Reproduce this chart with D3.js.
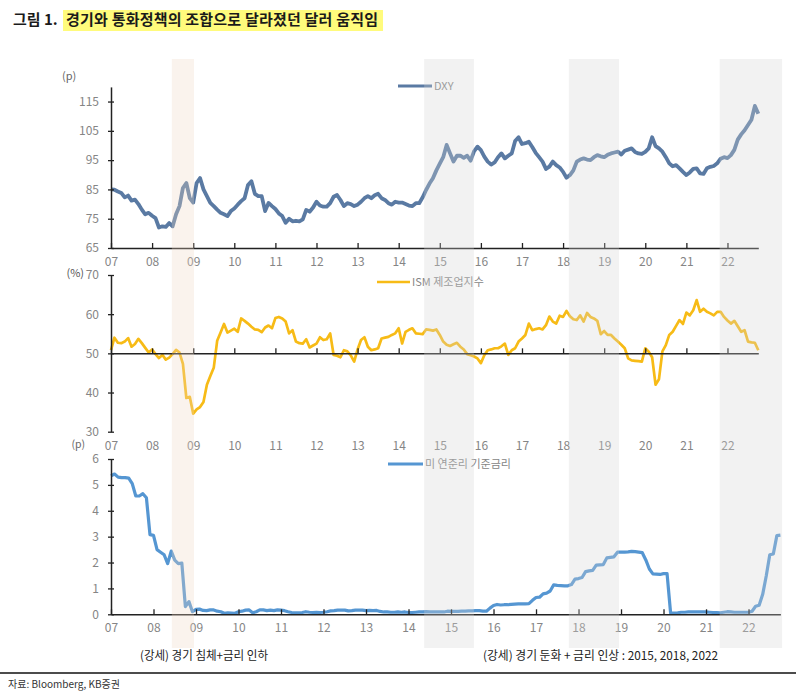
<!DOCTYPE html>
<html><head><meta charset="utf-8">
<script src="https://cdn.jsdelivr.net/npm/d3@7"></script>
<style>
body{margin:0;background:#fff}
svg{display:block}
text{font-family:"Noto Sans CJK KR","Noto Sans",sans-serif}
</style></head>
<body><svg id="c" width="796" height="696"></svg>
<script>
// ---- data (monthly, Jan 2007 .. Oct 2022) ----
const yearLabels = ["07","08","09","10","11","12","13","14","15","16","17","18","19","20","21","22"];
const dxyTicks = [65,75,85,95,105,115];
const ismTicks = [30,40,50,60,70];
const fedTicks = [0,1,2,3,4,5,6];

const dxy = [
85.0,84.9,84.3,83.8,82.3,82.9,81.2,81.5,80.0,78.1,76.5,77.0,
76.0,75.2,72.0,72.4,72.2,73.5,72.4,76.5,79.3,85.5,87.2,82.0,
80.5,87.2,88.9,85.0,82.7,80.4,79.3,78.1,77.0,76.5,75.9,77.6,
78.5,79.8,81.0,82.0,86.5,87.8,83.5,82.7,82.7,77.6,80.4,79.3,
78.3,76.8,75.9,73.6,75.0,74.1,74.3,74.1,74.8,78.0,77.4,78.8,
80.8,79.5,79.1,79.1,80.3,82.5,83.1,81.4,79.3,80.3,80.0,79.3,
79.8,80.8,82.0,82.7,82.0,83.0,83.5,82.0,81.4,80.3,79.8,80.8,
80.5,80.5,80.0,79.5,79.3,80.3,80.3,82.3,84.8,87.0,88.8,91.5,
93.8,96.0,100.2,97.3,94.5,96.5,96.5,95.8,96.5,94.8,98.0,99.6,
98.4,96.2,94.5,93.5,94.2,96.0,97.3,95.6,96.5,97.3,101.5,102.8,
100.5,100.8,101.3,99.5,97.5,96.0,94.5,92.0,92.8,94.5,93.3,92.5,
91.0,89.0,89.9,91.5,94.5,95.2,95.6,95.2,95.0,96.0,96.7,96.3,
96.0,96.8,97.3,97.6,97.9,96.9,98.2,98.6,99.0,97.8,97.3,97.1,
97.8,99.0,102.8,99.8,99.0,97.9,96.0,93.9,92.9,93.3,92.2,91.0,
89.9,90.8,92.0,92.2,90.5,90.3,92.2,92.7,93.0,93.9,95.5,96.0,
95.7,96.7,98.5,102.0,103.8,105.2,107.0,108.8,113.5,110.8];

const ism = [
50.8,54.0,52.7,52.6,53.0,53.9,51.7,52.4,53.7,52.6,51.4,50.2,
51.0,49.8,48.8,49.6,48.4,48.9,49.8,50.9,50.2,47.3,38.6,38.9,
34.6,35.7,36.3,37.6,42.0,44.2,46.3,53.2,55.3,57.5,55.3,55.8,
56.3,55.5,58.9,58.3,57.6,56.8,56.1,56.0,55.4,56.6,57.1,56.4,
59.0,59.3,58.9,58.1,55.1,55.9,53.0,52.6,52.5,53.6,51.5,52.0,
52.5,54.1,53.4,53.6,55.1,49.6,49.4,49.0,50.8,50.5,49.5,47.9,
51.0,53.4,54.1,51.7,50.8,51.0,51.3,53.8,54.0,54.2,54.7,55.1,
56.4,52.5,55.5,56.0,56.4,55.1,55.0,54.9,56.1,56.0,55.8,56.1,
54.7,53.0,52.2,51.9,52.3,52.7,51.7,51.0,49.8,49.5,49.2,48.7,
47.5,49.5,50.8,51.0,51.3,51.3,51.8,52.5,49.6,50.8,51.3,53.0,
53.8,54.7,57.6,55.9,56.2,56.4,56.1,57.2,59.4,58.1,57.6,59.6,
59.3,60.8,59.5,58.7,58.5,59.7,58.1,60.3,59.3,58.9,58.3,54.9,
55.7,54.7,54.7,53.8,53.0,52.2,51.3,48.7,48.2,48.1,48.0,47.9,
51.3,50.4,49.0,42.0,43.4,50.5,52.1,54.7,55.5,57.0,58.5,57.5,
60.4,59.7,61.0,63.6,60.6,61.4,60.6,60.2,59.7,60.6,60.6,59.3,
58.4,57.6,58.3,56.9,55.5,55.9,53.0,52.8,52.7,50.8];

const fed = [
5.35,5.42,5.30,5.28,5.28,5.26,5.05,4.57,4.57,4.66,4.50,3.08,
3.05,2.50,2.40,2.30,1.96,2.44,2.09,1.96,1.98,0.30,0.49,0.10,
0.19,0.20,0.15,0.14,0.17,0.17,0.12,0.10,0.04,0.06,0.05,0.04,
0.10,0.12,0.16,0.17,0.06,0.10,0.17,0.17,0.14,0.16,0.14,0.17,
0.16,0.14,0.10,0.07,0.06,0.06,0.07,0.10,0.08,0.07,0.08,0.07,
0.08,0.10,0.13,0.14,0.16,0.16,0.16,0.13,0.14,0.16,0.16,0.16,
0.14,0.15,0.14,0.15,0.11,0.09,0.09,0.08,0.08,0.09,0.08,0.09,
0.07,0.07,0.08,0.09,0.09,0.10,0.09,0.09,0.09,0.09,0.09,0.12,
0.11,0.11,0.11,0.12,0.12,0.13,0.13,0.14,0.14,0.12,0.12,0.24,
0.34,0.38,0.36,0.37,0.37,0.38,0.39,0.40,0.40,0.40,0.41,0.54,
0.65,0.66,0.79,0.82,0.90,1.14,1.12,1.11,1.10,1.10,1.15,1.36,
1.38,1.42,1.65,1.68,1.70,1.90,1.91,1.92,2.18,2.20,2.22,2.40,
2.40,2.40,2.41,2.43,2.42,2.40,2.38,2.10,1.75,1.56,1.55,1.54,
1.57,1.57,0.05,0.05,0.06,0.08,0.08,0.09,0.09,0.09,0.09,0.09,
0.09,0.08,0.07,0.07,0.06,0.08,0.10,0.09,0.08,0.08,0.08,0.08,
0.08,0.12,0.31,0.35,0.77,1.48,2.30,2.33,3.04,3.06];

// shaded periods (decimal years)
const shadeStart = [2008.48, 2014.62, 2018.14, 2021.81];
const shadeEnd   = [2009.02, 2015.83, 2019.36, 2023.33];
const shadeKind  = ["recession", "slowdown", "slowdown", "slowdown"];

// ---- drawing ----
const svg = d3.select("#c");
const dateOf = i => 2007 + i / 12;
const lastDate = dateOf(dxy.length - 1);
const tickYears = yearLabels.map((_, i) => 2007 + i);

const xTop = d3.scaleLinear().domain([2007, lastDate]).range([111, 758.3]);
const xBot = d3.scaleLinear().domain([2007, lastDate]).range([111, 780.4]);
const yD = d3.scaleLinear().domain([65, 120]).range([248, 86.9]);
const yI = d3.scaleLinear().domain([30, 70]).range([431.7, 275]);
const yF = d3.scaleLinear().domain([0, 6]).range([614.3, 459]);

const labelColor = "#858585";
const axisColor = "#222";

function styleAxis(g) {
  g.attr("font-family", null).attr("font-size", null);
  g.select(".domain").attr("stroke", axisColor).attr("stroke-width", 1.5);
  g.selectAll(".tick line").attr("stroke", axisColor).attr("stroke-width", 1.3);
  g.selectAll(".tick text").attr("fill", labelColor).style("font-size", "12px");
}

function yAxis(scale, ticks) {
  const g = svg.append("g").attr("transform", "translate(111,0)")
    .call(d3.axisLeft(scale).tickValues(ticks).tickFormat(d3.format("d"))
      .tickSizeInner(3).tickSizeOuter(0).tickPadding(9));
  styleAxis(g);
  g.selectAll(".tick line").attr("x1", -3).attr("x2", 3);
}
function xAxis(scale, yPos, pad) {
  const g = svg.append("g").attr("transform", `translate(0,${yPos})`)
    .call(d3.axisBottom(scale).tickValues(tickYears)
      .tickFormat(d => yearLabels[d - 2007]).tickSizeInner(-5).tickSizeOuter(0).tickPadding(pad));
  styleAxis(g);
}

// lines
const lineTop = d3.line().x((d, i) => xTop(dateOf(i))).y(d => yD(d));
const lineMid = d3.line().x((d, i) => xTop(dateOf(i))).y(d => yI(d));
const lineBot = d3.line().x((d, i) => xBot(dateOf(i))).y(d => yF(d));

const cDXY = "#5a7aa3", cISM = "#f7bb16", cFED = "#5596d2";

svg.append("path").datum(dxy).attr("d", lineTop).attr("fill", "none")
  .attr("stroke", cDXY).attr("stroke-width", 3.8).attr("stroke-linejoin", "round");
svg.append("path").datum(ism).attr("d", lineMid).attr("fill", "none")
  .attr("stroke", cISM).attr("stroke-width", 2.7).attr("stroke-linejoin", "round");
svg.append("path").datum(fed).attr("d", lineBot).attr("fill", "none")
  .attr("stroke", cFED).attr("stroke-width", 3.2).attr("stroke-linejoin", "round");

// axes
yAxis(yD, dxyTicks);
yAxis(yI, ismTicks);
yAxis(yF, fedTicks);
xAxis(xTop, 248, 9);
xAxis(xTop, yI(50), 88);
xAxis(xBot, 614.3, 9);

// unit labels
function txt(x, y, s, opts = {}) {
  return svg.append("text").attr("x", x).attr("y", y).text(s)
    .attr("fill", opts.fill || labelColor).style("font-size", (opts.size || 11) + "px")
    .attr("text-anchor", opts.anchor || "start").attr("font-weight", opts.weight || null);
}
txt(62, 80, "(p)", {fill: "#666"});
txt(84, 277, "(%)", {fill: "#555", anchor: "end"});
txt(85, 448, "(p)", {fill: "#666", anchor: "end", size: 10.5});

// legends
function legend(x1, x2, y, color, label, w) {
  svg.append("line").attr("x1", x1).attr("x2", x2).attr("y1", y).attr("y2", y)
    .attr("stroke", color).attr("stroke-width", w);
  txt(x2 + 2, y + 4, label, {size: 11});
}
legend(398, 432, 86, cDXY, "DXY", 3);
legend(377, 410, 282, cISM, "ISM 제조업지수", 2.6);
legend(388, 423, 464, cFED, "미 연준리 기준금리", 3.2);

// shading overlays
shadeStart.forEach((s, i) => {
  svg.append("rect").attr("x", xTop(s)).attr("y", 59)
    .attr("width", xTop(shadeEnd[i]) - xTop(s)).attr("height", 589)
    .attr("fill", shadeKind[i] === "recession" ? "rgb(240,214,196)" : "rgb(212,212,212)")
    .attr("fill-opacity", 0.3);
});

// title
const t1 = svg.append("text").attr("x", 13).attr("y", 25).text("그림 1.")
  .attr("font-weight", 700).style("font-size", "15px").attr("fill", "#1a1a1a");
const hl = svg.append("rect").attr("x", 63).attr("y", 10).attr("height", 21).attr("fill", "#fffb7c");
const t2 = svg.append("text").attr("x", 66).attr("y", 25).text("경기와 통화정책의 조합으로 달라졌던 달러 움직임")
  .attr("font-weight", 700).style("font-size", "15px").attr("fill", "#1a1a1a")
  .attr("textLength", 312).attr("lengthAdjust", "spacing");
hl.attr("width", 320);

// footnotes
svg.append("text").attr("x", 140).attr("y", 660).text("(강세) 경기 침체+금리 인하")
  .style("font-size", "12px").attr("fill", "#222").attr("textLength", 128).attr("lengthAdjust", "spacingAndGlyphs");
svg.append("text").attr("x", 483).attr("y", 660).text("(강세) 경기 둔화 + 금리 인상 : 2015, 2018, 2022")
  .style("font-size", "12px").attr("fill", "#222").attr("textLength", 235).attr("lengthAdjust", "spacingAndGlyphs");
svg.append("line").attr("x1", 0).attr("x2", 796).attr("y1", 673).attr("y2", 673)
  .attr("stroke", "#111").attr("stroke-width", 1.5);
svg.append("text").attr("x", 8).attr("y", 688).text("자료: Bloomberg, KB증권")
  .style("font-size", "10px").attr("fill", "#333").attr("textLength", 112).attr("lengthAdjust", "spacingAndGlyphs");
</script>
</body></html>
